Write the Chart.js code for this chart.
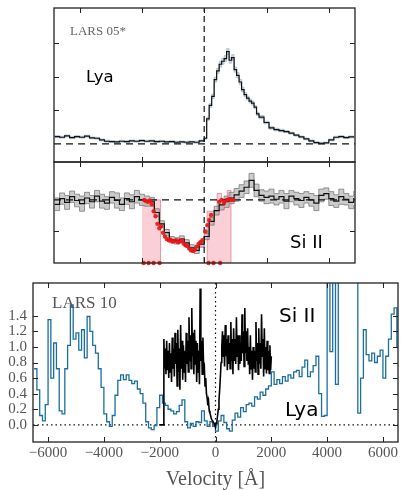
<!DOCTYPE html>
<html>
<head>
<meta charset="utf-8">
<script src="https://cdn.jsdelivr.net/npm/chart.js@4.4.0/dist/chart.umd.min.js"></script>
<style>
  body { margin: 0; background: #fff; }
  #wrap { position: relative; width: 401px; height: 490px; overflow: hidden; }
  #wrap canvas { position: absolute; left: 0; top: 0; }
</style>
</head>
<body>
<div id="wrap">
  <canvas id="lyaPanel" width="401" height="490"></canvas>
  <canvas id="siPanel" width="401" height="490"></canvas>
  <canvas id="lars10Panel" width="401" height="490"></canvas>
</div>
<script>
// ---- LARS 05*: Lya profile (velocity, flux, error) ----
var vel05Lya = [-1200,-1160,-1120,-1080,-1040,-1000,-960,-920,-880,-840,-800,-760,-720,-680,-640,-600,-560,-520,-480,-440,
  -400,-360,-320,-280,-240,-200,-160,-120,-80,-40,
  0,20,40,60,80,100,120,140,160,180,200,220,240,260,280,300,320,340,360,380,400,420,440,
  480,520,560,600,640,680,720,760,800,840,880,920,960,1000,1040,1080,1120,1160,1200];
var lya05 = [0.22,0.20,0.24,0.19,0.22,0.20,0.23,0.18,0.17,0.12,0.08,0.07,0.06,0.08,0.07,0.09,0.08,0.10,0.08,0.09,
  0.07,0.08,0.06,0.07,0.05,0.06,0.05,0.06,0.05,0.09,
  0.17,0.75,1.15,1.42,1.92,2.18,2.38,2.47,2.55,2.76,2.50,2.58,2.22,2.05,1.85,1.62,1.47,1.37,1.28,1.22,1.10,0.90,0.80,
  0.64,0.48,0.43,0.40,0.37,0.32,0.26,0.21,0.15,0.09,0.04,0.02,0.03,0.12,0.20,0.22,0.19,0.21,0.19];
var lyaErr05 = [0.03,0.03,0.03,0.03,0.03,0.03,0.03,0.03,0.03,0.03,0.03,0.03,0.03,0.03,0.03,0.03,0.03,0.03,0.03,0.03,
  0.03,0.03,0.03,0.03,0.03,0.03,0.03,0.03,0.03,0.03,
  0.03,0.05,0.06,0.07,0.08,0.08,0.09,0.09,0.09,0.09,0.09,0.09,0.08,0.08,0.08,0.07,0.07,0.06,0.06,0.06,0.05,0.05,0.05,
  0.04,0.04,0.04,0.04,0.03,0.03,0.03,0.03,0.03,0.03,0.03,0.03,0.03,0.03,0.03,0.03,0.03,0.03,0.03];

// ---- LARS 05*: Si II profile ----
var vel05Si = [-1200,-1160,-1120,-1080,-1040,-1000,-960,-920,-880,-840,-800,-760,-720,-680,-640,-600,-560,-520,-480,-440,
  -400,-360,-320,-280,-240,-200,-160,-120,-80,-40,0,40,80,120,160,200,240,280,320,360,
  400,440,480,520,560,600,640,680,720,760,800,840,880,920,960,1000,1040,1080,1120,1160,1200];
var si05 = [0.93,1.02,0.96,1.05,0.99,0.94,1.03,0.97,1.06,0.98,0.95,1.04,0.99,0.93,1.02,0.97,1.05,1.00,0.98,0.97,
  0.80,0.62,0.48,0.37,0.35,0.38,0.32,0.24,0.20,0.30,0.42,0.66,0.83,0.92,0.97,1.03,1.08,1.14,1.20,1.31,
  1.15,1.07,1.04,1.06,1.01,1.05,0.98,1.06,1.02,0.99,1.04,1.00,0.95,1.07,1.10,1.02,0.98,1.05,1.01,0.96,1.03];
var siErr05 = [0.10,0.09,0.11,0.09,0.10,0.12,0.09,0.10,0.09,0.11,0.10,0.09,0.12,0.10,0.09,0.11,0.10,0.09,0.08,0.07,
  0.06,0.05,0.05,0.05,0.05,0.05,0.05,0.05,0.05,0.05,0.05,0.06,0.07,0.08,0.09,0.09,0.10,0.10,0.10,0.11,
  0.10,0.09,0.10,0.11,0.09,0.10,0.12,0.09,0.10,0.11,0.09,0.10,0.12,0.10,0.09,0.11,0.10,0.12,0.09,0.10,0.11];

// masked pixels (red) and pink columns
var redV = [-480,-465,-450,-435,-420,-405,-390,-375,-360,-345,-330,-315,-300,-285,-270,-255,-240,-225,-210,-195,
  -180,-165,-150,-135,-120,-105,-90,-75,-60,-45,-30,-15,10,25,40,55,120,140,160,180,200,220,235];
var redF = [1.00,0.98,0.97,0.99,0.93,0.82,0.74,0.62,0.55,0.58,0.48,0.42,0.38,0.36,0.37,0.34,0.35,0.36,0.33,0.34,
  0.36,0.31,0.28,0.27,0.23,0.20,0.19,0.21,0.26,0.30,0.33,0.36,0.50,0.60,0.68,0.76,0.97,1.00,0.95,1.00,1.01,1.00,1.00];
var redBaseV = [-486,-446,-406,-358,35,75,128];
var redBaseF = [0,0,0,0,0,0,0];
var pinkV = [-500,-350,24,104,140,185,215];
var pinkF = [1.0,0,0.82,1.1,1.0,1.15,0];

// ---- LARS 10: Lya ----
var vel10Lya = [-6500,-6400,-6300,-6200,-6100,-6000,-5900,-5800,-5700,-5600,-5500,-5400,-5300,-5200,-5100,-5000,
  -4900,-4800,-4700,-4600,-4500,-4400,-4300,-4200,-4100,-4000,-3900,-3800,-3700,-3600,-3500,-3400,-3300,-3200,
  -3100,-3000,-2900,-2800,-2700,-2600,-2500,-2400,-2300,-2200,-2100,-2000,-1900,-1800,-1700,-1600,-1500,-1400,
  -1300,-1200,-1100,-1000,-900,-800,-700,-600,-500,-400,-300,-200,-100,0,100,200,300,400,500,600,700,800,900,
  1000,1100,1200,1300,1400,1500,1600,1700,1800,1900,2000,2100,2200,2300,2400,2500,2600,2700,2800,2900,3000,
  3100,3200,3300,3400,3500,3600,3700,3800,3900,4000,4100,4200,4300,4400,4500,4600,4700,4800,4900,5000,5100,
  5200,5300,5400,5500,5600,5700,5800,5900,6000,6100,6200,6300,6400,6500];
var lya10 = [0.72,0.45,0.12,0.05,0.26,1.35,0.60,1.05,0.72,0.18,0.14,0.72,1.02,1.54,1.10,1.18,
  0.96,1.22,0.86,1.39,1.20,1.02,0.92,0.72,0.48,0.14,0.04,-0.02,0.12,0.38,0.57,0.64,0.58,0.64,
  0.57,0.53,0.56,0.46,0.40,0.28,0.04,-0.04,-0.06,-0.01,0.22,0.38,0.28,0.25,0.20,0.18,0.14,0.17,
  0.25,0.32,0.04,-0.04,0.02,-0.02,0.04,0.03,0.18,0.05,-0.02,0.04,-0.02,-0.08,0.05,0.12,0.03,-0.05,-0.08,0.06,0.15,0.10,0.22,
  0.17,0.26,0.28,0.24,0.36,0.33,0.42,0.38,0.46,0.50,0.68,0.52,0.58,0.53,0.62,0.56,0.64,0.60,0.68,0.70,0.62,
  0.74,0.83,0.62,0.68,0.76,0.88,0.40,0.11,0.12,2.50,0.94,2.50,0.52,2.50,2.50,2.50,2.50,2.50,2.50,2.50,0.15,
  0.60,1.22,0.90,0.82,0.92,0.80,0.88,0.96,0.60,0.88,1.10,1.42,1.50,1.00];

// ---- LARS 10: Si II ----
var vel10Si = [-2000,-1975,-1950,-1925,-1900,-1875,-1850,-1825,-1800,-1775,-1750,-1725,-1700,-1675,-1650,-1625,
  -1600,-1575,-1550,-1525,-1500,-1475,-1450,-1425,-1400,-1375,-1350,-1325,-1300,-1275,-1250,-1225,
  -1200,-1175,-1150,-1125,-1100,-1075,-1050,-1025,-1000,-975,-950,-925,-900,-875,-850,-825,
  -800,-775,-750,-725,-700,-675,-650,-625,-600,-575,-550,-525,-500,-475,-450,-425,
  -400,-375,-350,-325,-300,-275,-250,-225,-200,-175,-150,-125,-100,-75,-50,-25,
  0,25,50,75,100,125,150,175,200,225,250,275,300,325,350,375,
  400,425,450,475,500,525,550,575,600,625,650,675,700,725,750,775,
  800,825,850,875,900,925,950,975,1000,1025,1050,1075,1100,1125,1150,1175,
  1200,1225,1250,1275,1300,1325,1350,1375,1400,1425,1450,1475,1500,1525,1550,1575,
  1600,1625,1650,1675,1700,1725,1750,1775,1800,1825,1850,1875,1900,1925,1950,1975,2000];
var si10 = [0.00,0.00,0.00,0.00,0.00,0.00,1.10,0.72,0.98,0.65,1.08,0.70,0.95,0.60,1.05,0.68,
  0.92,0.55,1.12,0.72,0.98,0.62,1.18,0.78,1.05,0.50,1.22,0.68,0.98,0.45,1.28,0.72,
  1.08,0.58,1.02,0.68,0.95,0.55,1.18,0.78,1.08,0.68,1.38,0.82,1.15,0.72,1.50,0.88,
  1.18,0.65,1.22,0.78,1.08,0.55,1.05,0.68,0.95,0.52,1.75,0.82,1.08,0.65,1.12,0.72,
  0.75,0.50,0.60,0.40,0.35,0.25,0.30,0.18,0.15,0.12,0.08,0.06,0.05,0.03,0.02,0.00,
  -0.03,0.02,0.05,0.12,0.20,0.32,0.45,0.62,0.80,1.00,1.20,0.88,1.15,0.75,1.28,0.88,
  1.10,0.70,1.15,0.78,1.05,0.72,1.32,0.82,1.10,0.65,1.24,0.82,1.10,0.78,1.38,0.88,
  1.15,0.70,1.15,0.78,1.05,0.82,1.42,0.92,1.20,0.75,1.50,0.92,1.20,0.82,1.24,0.78,
  1.00,0.65,1.15,0.72,0.95,0.58,1.00,0.72,0.95,0.68,1.32,0.82,1.05,0.65,1.24,0.78,
  1.05,0.72,1.42,0.88,1.10,0.62,1.24,0.72,1.00,0.66,1.08,0.70,0.95,0.66,1.02,0.70,0.88];

// ticks
var ticks05X = [-1000,-500,0,500,1000];
var ticksLyaY = [1,2,3];
var ticksSiY = [0.5];
var ticks10X = [-6000,-4000,-2000,0,2000,4000,6000];
var ticks10Y = [0,0.2,0.4,0.6,0.8,1.0,1.2,1.4];

var range05X = [-1205, 1210];
var rangeLyaY = [-0.54, 4.06];
var rangeSiY = [0, 1.6];
var range10X = [-6540, 6540];
var range10Y = [-0.22, 1.82];

function xy(xs, ys) {
  return xs.map(function (x, i) { return { x: x, y: ys[i] }; });
}
function shift(ys, err, sign) {
  return ys.map(function (y, i) { return y + sign * err[i]; });
}

// frame, inward ticks and panel labels
var framePlugin = {
  id: "frame",
  afterDatasetsDraw: function (chart, args, opts) {
    var ctx = chart.ctx, a = chart.chartArea, sx = chart.scales.x, sy = chart.scales.y;
    var len = opts.tickLen || 5;
    ctx.save();
    ctx.strokeStyle = "#222";
    ctx.lineWidth = 1;
    ctx.beginPath();
    (opts.xTicks || []).forEach(function (v) {
      var px = Math.round(sx.getPixelForValue(v)) + 0.5;
      ctx.moveTo(px, a.top); ctx.lineTo(px, a.top + len);
      ctx.moveTo(px, a.bottom); ctx.lineTo(px, a.bottom - len);
    });
    (opts.yTicks || []).forEach(function (v) {
      var py = Math.round(sy.getPixelForValue(v)) + 0.5;
      ctx.moveTo(a.left, py); ctx.lineTo(a.left + len, py);
      ctx.moveTo(a.right, py); ctx.lineTo(a.right - len, py);
    });
    ctx.stroke();
    ctx.lineWidth = 1.3;
    ctx.strokeRect(a.left, a.top, a.right - a.left, a.bottom - a.top);
    (opts.labels || []).forEach(function (t) {
      ctx.font = t.font;
      ctx.fillStyle = t.color || "#000";
      ctx.textBaseline = "alphabetic";
      ctx.fillText(t.text, t.x, t.y);
    });
    ctx.restore();
  }
};

function baseOptions(pad, xr, yr, frame) {
  return {
    responsive: false,
    animation: false,
    devicePixelRatio: 1,
    layout: { padding: pad },
    elements: { point: { radius: 0 }, line: { tension: 0 } },
    scales: {
      x: { type: "linear", min: xr[0], max: xr[1], display: false },
      y: { type: "linear", min: yr[0], max: yr[1], display: false }
    },
    plugins: { legend: { display: false }, tooltip: { enabled: false }, frame: frame }
  };
}

function refLine(points, dash, order) {
  return { data: points, borderColor: "#111", borderWidth: 1.2, borderDash: dash, order: order };
}

// ---- panel 1: Lya LARS 05* ----
new Chart(document.getElementById("lyaPanel"), {
  type: "line",
  data: {
    datasets: [
      { data: xy(vel05Lya, lya05), borderColor: "#111", borderWidth: 1.2, stepped: true, order: 1 },
      { data: xy(vel05Lya, shift(lya05, lyaErr05, 1)), borderColor: "rgba(120,140,160,0.6)", borderWidth: 0.6, stepped: true, order: 3 },
      { data: xy(vel05Lya, shift(lya05, lyaErr05, -1)), borderColor: "rgba(120,140,160,0.6)", borderWidth: 0.6, stepped: true,
        fill: "-1", backgroundColor: "rgba(150,180,210,0.5)", order: 4 },
      refLine([{ x: 0, y: rangeLyaY[0] }, { x: 0, y: rangeLyaY[1] }], [6, 4], 2),
      refLine([{ x: range05X[0], y: 0 }, { x: range05X[1], y: 0 }], [7, 5], 2)
    ]
  },
  options: baseOptions({ left: 54, right: 46, top: 8, bottom: 328 }, range05X, rangeLyaY, {
    xTicks: ticks05X, yTicks: ticksLyaY,
    labels: [
      { text: "LARS 05*", x: 70, y: 35, font: '13px "Liberation Serif"', color: "#666" },
      { text: "Lya", x: 86, y: 82, font: '16.5px "DejaVu Sans"', color: "#000" }
    ]
  }),
  plugins: [framePlugin]
});

// ---- panel 2: Si II LARS 05* ----
new Chart(document.getElementById("siPanel"), {
  type: "line",
  data: {
    datasets: [
      { data: xy(redV, redF), showLine: false, pointRadius: 2.2, pointBackgroundColor: "rgba(235,20,20,0.9)",
        pointBorderWidth: 0, order: 0 },
      { data: xy(redBaseV, redBaseF), showLine: false, pointRadius: 2.2, pointBackgroundColor: "rgba(235,20,20,0.9)",
        pointBorderWidth: 0, clip: false, order: 0 },
      { data: xy(vel05Si, si05), borderColor: "#111", borderWidth: 1.2, stepped: true, order: 1 },
      { data: xy(vel05Si, shift(si05, siErr05, 1)), borderColor: "#7a7a7a", borderWidth: 0.8, stepped: true, order: 3 },
      { data: xy(vel05Si, shift(si05, siErr05, -1)), borderColor: "#7a7a7a", borderWidth: 0.8, stepped: true,
        fill: "-1", backgroundColor: "rgba(160,160,160,0.55)", order: 4 },
      refLine([{ x: 0, y: rangeSiY[0] }, { x: 0, y: rangeSiY[1] }], [6, 4], 2),
      refLine([{ x: range05X[0], y: 1 }, { x: range05X[1], y: 1 }], [7, 5], 2),
      { data: xy(pinkV, pinkF), stepped: true, borderColor: "rgba(215,120,130,0.7)", borderWidth: 1,
        fill: "origin", backgroundColor: "rgba(245,170,180,0.55)", order: 6 }
    ]
  },
  options: baseOptions({ left: 54, right: 46, top: 162, bottom: 227 }, range05X, rangeSiY, {
    xTicks: ticks05X, yTicks: ticksSiY,
    labels: [
      { text: "Si II", x: 290, y: 248, font: '18px "DejaVu Sans"', color: "#000" }
    ]
  }),
  plugins: [framePlugin]
});

// ---- panel 3: LARS 10 ----
var opts10 = baseOptions({ left: 0, right: 3, top: 283, bottom: 0 }, range10X, range10Y, {
  xTicks: ticks10X, yTicks: ticks10Y,
  labels: [
    { text: "LARS 10", x: 52, y: 308, font: '17px "Liberation Serif"', color: "#555" },
    { text: "Si II", x: 279, y: 322, font: '20px "DejaVu Sans"', color: "#000" },
    { text: "Lya", x: 285, y: 416, font: '20px "DejaVu Sans"', color: "#000" }
  ]
});
opts10.scales.x = {
  type: "linear", min: range10X[0], max: range10X[1],
  grid: { display: false, drawTicks: false }, border: { display: false },
  ticks: {
    autoSkip: false, maxRotation: 0, minRotation: 0, padding: 2, color: "#555",
    font: { family: "Liberation Serif", size: 15 },
    callback: function (v) { return v < 0 ? "\u2212" + Math.abs(v) : String(v); }
  },
  afterBuildTicks: function (s) {
    s.ticks = ticks10X.map(function (v) { return { value: v }; });
  },
  title: { display: true, text: "Velocity [\u00c5]", color: "#555", padding: 0,
    font: { family: "Liberation Serif", size: 20, lineHeight: 1 } },
  afterFit: function (s) { s.height = 48; }
};
opts10.scales.y = {
  type: "linear", min: range10Y[0], max: range10Y[1],
  grid: { display: false, drawTicks: false }, border: { display: false },
  ticks: {
    autoSkip: false, padding: 6, color: "#555",
    font: { family: "Liberation Serif", size: 15 },
    callback: function (v) { return v.toFixed(1); }
  },
  afterBuildTicks: function (s) {
    s.ticks = ticks10Y.map(function (v) { return { value: v }; });
  },
  afterFit: function (s) { s.width = 33; }
};

new Chart(document.getElementById("lars10Panel"), {
  type: "line",
  data: {
    datasets: [
      { data: xy(vel10Si, si10), borderColor: "#000", borderWidth: 1.6, order: 1 },
      { data: xy(vel10Lya, lya10), borderColor: "#1b6e9e", borderWidth: 1.3, stepped: true, order: 2 },
      refLine([{ x: 0, y: range10Y[0] }, { x: 0, y: range10Y[1] }], [1.5, 3], 3),
      refLine([{ x: range10X[0], y: 0 }, { x: range10X[1], y: 0 }], [1.5, 3], 3)
    ]
  },
  options: opts10,
  plugins: [framePlugin]
});
</script>
</body>
</html>
